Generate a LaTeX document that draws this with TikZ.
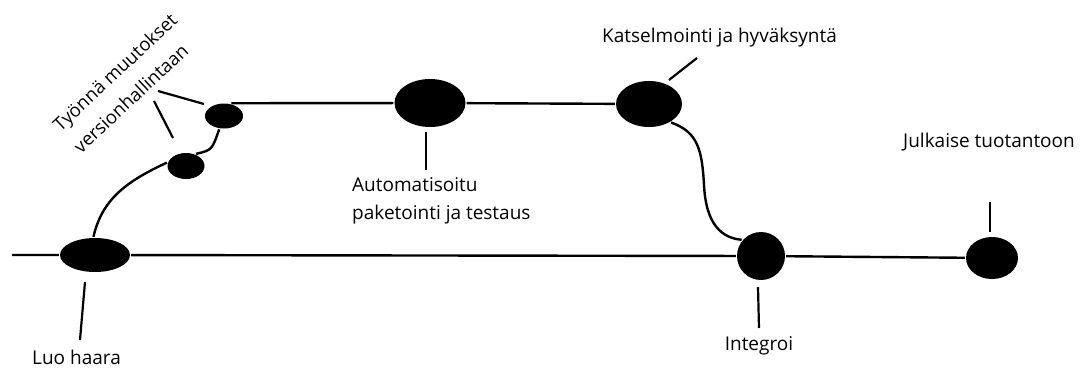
\documentclass[tikz,border=0pt]{standalone}
\usepackage{fontspec}
\setmainfont{Open Sans}
\usetikzlibrary{shapes.geometric}

\begin{document}
\begin{tikzpicture}[x=1pt, y=-1pt, line width=2.4pt]
    \tikzset{
        commit/.style={fill=black, ellipse, inner sep=0pt},
        caption/.style={font=\fontsize{19}{28}\selectfont, inner sep=0pt, align=left},
        branch/.style={draw, line width=2.4pt},
        leader/.style={draw, line width=2.2pt}
    }
    \useasboundingbox (0,0) rectangle (1090,370);

    % Commits
    \node [commit, minimum width=70pt, minimum height=34pt] (luo) at (95,255) {};
    \node [commit, minimum width=37pt, minimum height=26pt] (push1) at (186,166) {};
    \node [commit, minimum width=38pt, minimum height=25pt] (push2) at (224,116) {};
    \node [commit, minimum width=71pt, minimum height=48pt] (auto) at (430,103) {};
    \node [commit, minimum width=66pt, minimum height=46pt] (review) at (649,104) {};
    \node [commit, minimum width=48pt, minimum height=48pt] (integ) at (761,256) {};
    \node [commit, minimum width=52pt, minimum height=42pt] (release) at (992,258) {};
    \coordinate (start) at (12,255);

    % Labels
    \node [caption, anchor=base west] (luo-text) at (31,364) {Luo haara};
    \node [caption, rotate=43, font=\fontsize{18.5}{30}\selectfont] (push-text) at (125,83) {Työnnä muutokset\\versionhallintaan};
    \node [caption, anchor=north west] (auto-text) at (351,176) {Automatisoitu\\paketointi ja testaus};
    \node [caption, anchor=base west] (review-text) at (601,42) {Katselmointi ja hyväksyntä};
    \node [caption, anchor=base] (integ-text) at (759,350) {Integroi};
    \node [caption, anchor=base west] (release-text) at (902,147) {Julkaise tuotantoon};

    % Main line and feature branch
    \draw [branch] (start) -- (luo) -- (integ) -- (release);
    \draw [branch] (luo.95) .. controls (102,200) and (125,182) .. (push1.170);
    \draw [branch] (push1.50) .. controls (212,150) .. (push2.250);
    \draw [branch] (push2.60) -- (auto) -- (review);
    \draw [branch] (review.-40) .. controls (698,132) and (702,150) .. (704,185)
        .. controls (706,225) and (722,238) .. (integ.140);

    % Leader lines
    \coordinate (luo-a) at (85,282);   \coordinate (luo-b) at (80,340);
    \coordinate (push-a) at (158,91);  \coordinate (push-b) at (204,104);
    \coordinate (push-c) at (154,101); \coordinate (push-d) at (173,138);
    \coordinate (auto-a) at (426,132); \coordinate (auto-b) at (426,170);
    \coordinate (review-a) at (669,80); \coordinate (review-b) at (697,58);
    \coordinate (integ-a) at (758,287); \coordinate (integ-b) at (759,328);
    \coordinate (release-a) at (990,202); \coordinate (release-b) at (990,232);
    \draw [leader] (luo-a) -- (luo-b);
    \draw [leader] (push-a) -- (push-b);
    \draw [leader] (push-c) -- (push-d);
    \draw [leader] (auto-a) -- (auto-b);
    \draw [leader] (review-a) -- (review-b);
    \draw [leader] (integ-a) -- (integ-b);
    \draw [leader] (release-a) -- (release-b);
\end{tikzpicture}
\end{document}
